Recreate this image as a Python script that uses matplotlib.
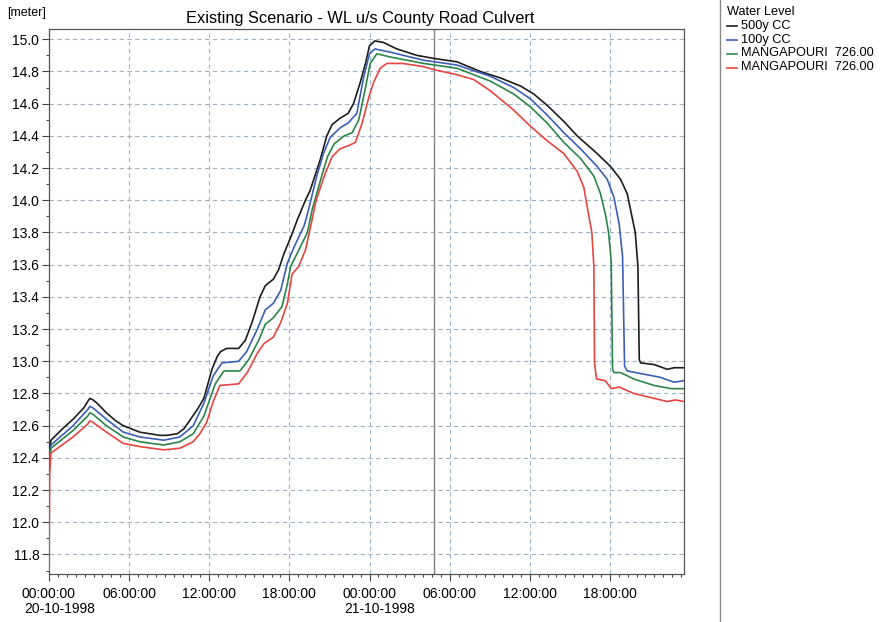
import matplotlib
matplotlib.use("Agg")
import matplotlib.pyplot as plt
from matplotlib.lines import Line2D
from matplotlib.ticker import MultipleLocator

plt.rcParams['font.family'] = ['Liberation Sans', 'DejaVu Sans']

# hours since 20-10-1998 00:00:00, water level [m]
h_500 = [0, 0.15, 1.0, 1.8, 2.6, 2.9, 3.06, 3.3, 3.6, 4.3, 5.0, 5.56, 6.8, 8.3, 8.8, 9.6, 10.1, 10.6,
         11.1, 11.6, 12.2, 12.6, 12.85, 13.3, 14.2, 14.7, 15.2, 15.8, 16.2, 16.8, 17.2, 17.6, 18.1,
         18.6, 19.2, 19.55, 20.3, 20.8, 21.2, 21.8, 22.4, 22.8, 23.3, 23.7, 24.0, 24.4, 25.05, 26.05,
         27.55, 28.9, 30.55, 32.3, 33.8, 35.3, 36.3, 37.3, 38.55, 39.55, 41.05, 42.05, 42.8, 43.3,
         43.6, 43.9, 44.1, 44.2, 44.3, 45.3, 46.3, 46.8, 47.55]
v_500 = [12.44, 12.51, 12.58, 12.64, 12.71, 12.75, 12.77, 12.76, 12.74, 12.68, 12.63, 12.60, 12.56,
         12.54, 12.54, 12.55, 12.58, 12.64, 12.70, 12.77, 12.95, 13.03, 13.06, 13.08, 13.08, 13.13,
         13.24, 13.40, 13.47, 13.51, 13.57, 13.67, 13.77, 13.88, 14.00, 14.06, 14.25, 14.40, 14.47,
         14.51, 14.54, 14.60, 14.73, 14.85, 14.96, 14.99, 14.98, 14.94, 14.90, 14.88, 14.86, 14.80,
         14.76, 14.71, 14.66, 14.59, 14.49, 14.40, 14.29, 14.21, 14.13, 14.04, 13.92, 13.80, 13.59,
         13.01, 12.99, 12.98, 12.95, 12.96, 12.96]

h_100 = [0, 0.15, 1.8, 2.9, 3.06, 3.3, 4.3, 5.56, 6.8, 8.6, 9.8, 10.8, 11.6, 12.3, 12.95, 14.2, 14.8,
         15.6, 16.2, 16.8, 17.35, 17.85, 18.35, 19.1, 19.4, 20.05, 20.55, 21.05, 21.8, 22.4, 23.05,
         23.55, 24.0, 24.4, 25.55, 28.05, 30.55, 33.05, 34.8, 36.05, 37.3, 38.55, 39.8, 41.05, 41.8,
         42.3, 42.7, 42.95, 43.1, 43.3, 44.55, 45.8, 46.8, 47.55]
v_100 = [12.40, 12.48, 12.60, 12.70, 12.72, 12.71, 12.64, 12.56, 12.53, 12.51, 12.53, 12.60, 12.74,
         12.91, 12.99, 13.00, 13.06, 13.20, 13.32, 13.36, 13.44, 13.61, 13.71, 13.84, 13.93, 14.15,
         14.29, 14.39, 14.45, 14.48, 14.54, 14.76, 14.91, 14.94, 14.92, 14.87, 14.84, 14.77, 14.70,
         14.63, 14.53, 14.42, 14.32, 14.21, 14.13, 14.02, 13.85, 13.65, 12.97, 12.94, 12.92, 12.90,
         12.87, 12.88]

h_mg1 = [0, 0.15, 1.8, 2.9, 3.06, 3.3, 4.3, 5.56, 6.8, 8.6, 9.8, 10.8, 11.6, 12.45, 13.1, 14.3,
         14.95, 15.7, 16.2, 16.8, 17.45, 17.85, 18.1, 18.7, 19.35, 19.7, 20.35, 20.85, 21.35, 22.1,
         22.7, 23.2, 23.7, 24.05, 24.55, 25.55, 28.05, 30.55, 33.05, 34.8, 36.05, 37.3, 38.55, 39.8,
         40.8, 41.3, 41.7, 41.9, 42.1, 42.2, 42.3, 42.8, 43.8, 45.3, 46.6, 47.55]
v_mg1 = [12.36, 12.46, 12.57, 12.66, 12.68, 12.67, 12.60, 12.53, 12.50, 12.48, 12.50, 12.55, 12.66,
         12.86, 12.94, 12.94, 13.01, 13.13, 13.23, 13.27, 13.34, 13.48, 13.59, 13.69, 13.80, 13.94,
         14.13, 14.27, 14.35, 14.40, 14.42, 14.50, 14.70, 14.85, 14.91, 14.89, 14.85, 14.82, 14.74,
         14.66, 14.58, 14.48, 14.36, 14.26, 14.15, 14.04, 13.90, 13.80, 13.62, 12.95, 12.93, 12.93,
         12.89, 12.85, 12.83, 12.83]

h_mg2 = [0, 0.05, 0.15, 1.8, 2.9, 3.06, 3.3, 4.3, 5.56, 6.8, 8.6, 9.8, 10.8, 11.3, 11.8, 12.3, 12.8,
         14.2, 14.85, 15.6, 16.1, 16.8, 17.35, 17.85, 18.2, 18.7, 19.2, 19.6, 20.0, 20.7, 21.2, 21.8,
         22.45, 22.95, 23.45, 23.95, 24.3, 24.8, 25.3, 26.5, 28.05, 28.9, 30.55, 31.8, 33.05, 34.8,
         36.05, 37.3, 38.55, 39.55, 40.05, 40.3, 40.65, 40.8, 40.85, 41.0, 41.65, 42.1, 42.7, 43.8,
         45.3, 46.3, 46.9, 47.55]
v_mg2 = [11.70, 12.30, 12.43, 12.53, 12.61, 12.63, 12.62, 12.56, 12.49, 12.47, 12.45, 12.46, 12.50,
         12.55, 12.62, 12.75, 12.85, 12.86, 12.93, 13.05, 13.11, 13.15, 13.24, 13.36, 13.54, 13.59,
         13.69, 13.84, 14.00, 14.17, 14.27, 14.32, 14.34, 14.36, 14.48, 14.64, 14.73, 14.82, 14.85,
         14.85, 14.83, 14.81, 14.78, 14.75, 14.68, 14.56, 14.46, 14.37, 14.29, 14.18, 14.08, 13.96,
         13.80, 13.59, 12.99, 12.89, 12.88, 12.83, 12.84, 12.80, 12.77, 12.75, 12.76, 12.75]

series_names = ['500y CC', '100y CC', 'MANGAPOURI  726.00', 'MANGAPOURI  726.00']
colors = ['#1c1c1c', '#3b5fb5', '#2b8548', '#e5463f']

x_ticks = [0, 6, 12, 18, 24, 30, 36, 42]
x_labels = ['00:00:00', '06:00:00', '12:00:00', '18:00:00', '00:00:00', '06:00:00', '12:00:00', '18:00:00']
date_ticks = [0, 24]
date_labels = ['20-10-1998', '21-10-1998']
marker_h = 28.86

W, H = 884, 622
fig = plt.figure(figsize=(W / 100, H / 100), dpi=100)
ax = fig.add_axes([49 / W, 1 - 574.3 / H, (684 - 49) / W, (574.3 - 29.3) / H])

data = [(h_500, v_500), (h_100, v_100), (h_mg1, v_mg1), (h_mg2, v_mg2)]
for (hh, vv), c in zip(data, colors):
    ax.plot(hh, vv, color=c, lw=1.2, zorder=3)

ax.axvline(marker_h, color='#808080', lw=1.0, zorder=2)

ax.set_xlim(0, 47.55)
ax.set_ylim(11.677, 15.062)
ax.set_xticks(x_ticks)
ax.set_xticklabels(x_labels)
ax.xaxis.set_minor_locator(MultipleLocator(2 / 3))
ax.yaxis.set_major_locator(MultipleLocator(0.2))
ax.yaxis.set_minor_locator(MultipleLocator(0.1))
ax.yaxis.set_major_formatter(plt.FuncFormatter(lambda v, p: '%.1f' % v))

ax.tick_params(which='major', length=5, width=0.8, color='#444444', labelsize=10)
ax.tick_params(axis='x', which='major', pad=4)
ax.tick_params(axis='y', which='major', pad=2)
ax.tick_params(which='minor', length=2.5, width=0.8, color='#444444')

ax.grid(True, which='major', color='#9db3c7', ls=(0, (4, 3)), lw=0.8)
for s in ax.spines.values():
    s.set_color('#555555')
    s.set_linewidth(0.9)

for t, lab in zip(date_ticks, date_labels):
    ax.annotate(lab, xy=(t, 0), xycoords=('data', 'axes fraction'), xytext=(-25, -28),
                textcoords='offset pixels', ha='left', va='top', fontsize=10)

fig.text(360 / W, 1 - 18 / H, 'Existing Scenario - WL u/s County Road Culvert',
         ha='center', va='center', fontsize=11.8)
fig.text(7 / W, 1 - 13 / H, '[meter]', ha='left', va='center', fontsize=9)

# legend panel on the right
fig.add_artist(Line2D([720 / W, 720 / W], [0, 1], transform=fig.transFigure, color='#888888', lw=1))
fig.text(727 / W, 1 - 12 / H, 'Water Level', ha='left', va='center', fontsize=9.2)
for i, (name, c) in enumerate(zip(series_names, colors)):
    yy = 1 - (25.5 + 14 * i) / H
    fig.add_artist(Line2D([727 / W, 737 / W], [yy, yy], transform=fig.transFigure, color=c, lw=1.2))
    fig.text(741 / W, yy, name, ha='left', va='center', fontsize=9.2)

fig.savefig('out.png', dpi=100)
